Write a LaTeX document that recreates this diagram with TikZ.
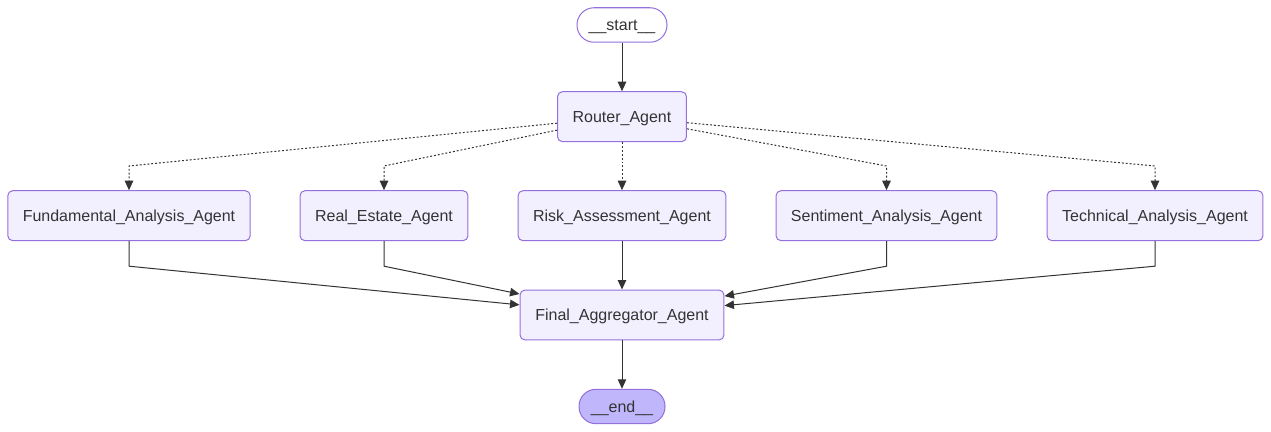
\documentclass[tikz,border=0pt]{standalone}
\usepackage{fontspec}
\setmainfont{Liberation Sans}
\usetikzlibrary{arrows.meta}
\definecolor{nodefill}{HTML}{F2F0FF}
\definecolor{nodeline}{HTML}{9370DB}
\definecolor{endfill}{HTML}{BFB6FC}
\definecolor{edgeline}{HTML}{333333}
\tikzset{
    agent/.style={draw=nodeline, fill=nodefill, line width=0.57pt, rounded corners=0.1cm,
        minimum height=1.0cm, inner sep=0pt, text=edgeline,
        text height=6.5pt, text depth=0pt,
        font=\fontsize{9.1}{11}\selectfont},
    terminal/.style={agent, rounded corners=0.34cm, minimum height=0.69cm},
    flow/.style={draw=edgeline, line width=0.57pt,
        -{Triangle[length=1.9mm, width=1.7mm]}},
    cond/.style={flow, dash pattern=on 1.1pt off 1.1pt}
}
\begin{document}
\begin{tikzpicture}[x=0.02cm, y=-0.02cm]
    \useasboundingbox (0, 0) rectangle (1271, 432);
    % Draw nodes
    \node [terminal, fill=white, minimum width=1.8cm] (start) at (622, 25) {\_\_start\_\_};
    \node [agent, minimum width=2.58cm] (router) at (622, 116.7) {Router\_Agent};
    \node [agent, minimum width=4.85cm] (fund) at (129, 215.7) {Fundamental\_Analysis\_Agent};
    \node [agent, minimum width=3.36cm] (estate) at (384, 215.7) {Real\_Estate\_Agent};
    \node [agent, minimum width=4.16cm] (risk) at (622, 215.7) {Risk\_Assessment\_Agent};
    \node [agent, minimum width=4.42cm] (senti) at (886.5, 215.7) {Sentiment\_Analysis\_Agent};
    \node [agent, minimum width=4.32cm] (tech) at (1155, 215.7) {Technical\_Analysis\_Agent};
    \node [agent, minimum width=4.08cm] (final) at (622, 315) {Final\_Aggregator\_Agent};
    \node [terminal, fill=endfill, minimum width=1.72cm] (end) at (622, 406.5) {\_\_end\_\_};
    % Draw edges
    \draw [flow] (start) -- (router);
    \draw [cond] (router) -- (fund.north |- 0, 166) -- (fund);
    \draw [cond] (router) -- (estate.north |- 0, 166) -- (estate);
    \draw [cond] (router) -- (risk);
    \draw [cond] (router) -- (senti.north |- 0, 166) -- (senti);
    \draw [cond] (router) -- (tech.north |- 0, 166) -- (tech);
    \draw [flow] (fund.south) -- ++(0, 25) -- (final);
    \draw [flow] (estate.south) -- ++(0, 25) -- (final);
    \draw [flow] (risk) -- (final);
    \draw [flow] (senti.south) -- ++(0, 25) -- (final);
    \draw [flow] (tech.south) -- ++(0, 25) -- (final);
    \draw [flow] (final) -- (end);
\end{tikzpicture}
\end{document}
